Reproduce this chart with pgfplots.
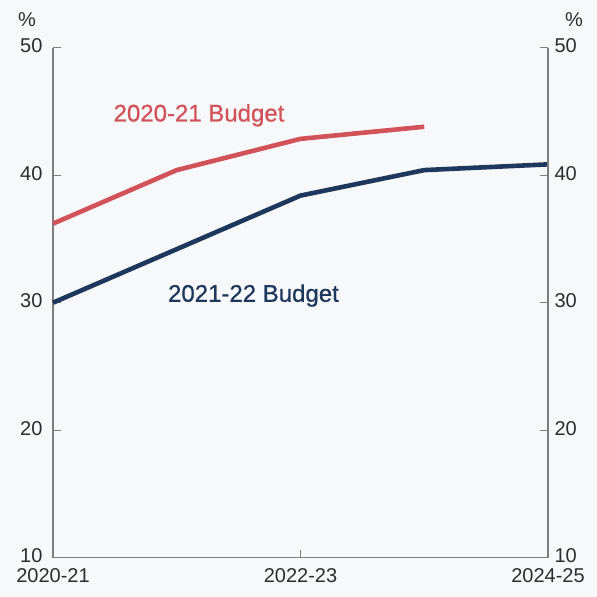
\documentclass[border=0pt]{standalone}
\usepackage{pgfplots}
\pgfplotsset{compat=1.18}
\usepackage{fontspec}
\setmainfont{Liberation Sans}
\newfontfamily\labfont{Liberation Sans}[FakeBold=0.7]
\definecolor{bgc}{RGB}{247,248,250}
\definecolor{redl}{RGB}{210,82,90}
\definecolor{bluel}{RGB}{30,55,92}
\definecolor{axg}{RGB}{125,125,125}
\definecolor{txt}{RGB}{45,45,45}
\begin{document}
\begin{tikzpicture}
\fill[bgc] (-53pt,-39.3pt) rectangle (544pt,557.7pt);
\path[use as bounding box] (-53pt,-39.3pt) rectangle (544pt,557.7pt);
\pgfplotsset{
  base/.style={
    scale only axis, width=495pt, height=510pt,
    xmin=0, xmax=4, ymin=10, ymax=50,
    ytick={10,20,30,40,50},
    tick align=inside,
    major tick length=8pt,
    tick style={draw=axg, line width=1.3pt},
    axis line style={-, draw=axg, line width=1.3pt},
    /pgf/number format/assume math mode=true,
    tick label style={font=\fontsize{20}{20}\selectfont, text=txt},
    clip=false,
  }
}
\begin{axis}[base,
  axis x line*=bottom, axis y line*=left,
  xtick={0,2,4}, xticklabels={2020-21,2022-23,2024-25},
  xticklabel style={yshift=-7pt},
  yticklabel style={xshift=-7pt, yshift=2pt},
]
\addplot[redl, line width=4.6pt, line join=round] coordinates {
  (0,36.2) (1,40.4) (2,42.85) (3,43.8)
};
\addplot[bluel, line width=4.6pt, line join=round] coordinates {
  (0,30.0) (1,34.2) (2,38.4) (3,40.4) (4,40.85)
};
\node[text=redl, font=\labfont\fontsize{24}{24}\selectfont] at (axis cs:1.18,44.7) {2020-21 Budget};
\node[text=bluel, font=\labfont\fontsize{24}{24}\selectfont] at (axis cs:1.62,30.56) {2021-22 Budget};
\node[text=txt, font=\fontsize{20}{20}\selectfont] at (rel axis cs:0,1) [xshift=-26pt, yshift=28pt] {\%};
\node[text=txt, font=\fontsize{20}{20}\selectfont] at (rel axis cs:1,1) [xshift=26pt, yshift=28pt] {\%};
\end{axis}
\begin{axis}[base,
  hide x axis, axis y line*=right,
  yticklabel style={xshift=3pt, yshift=2pt},
]
\end{axis}
\end{tikzpicture}
\end{document}
